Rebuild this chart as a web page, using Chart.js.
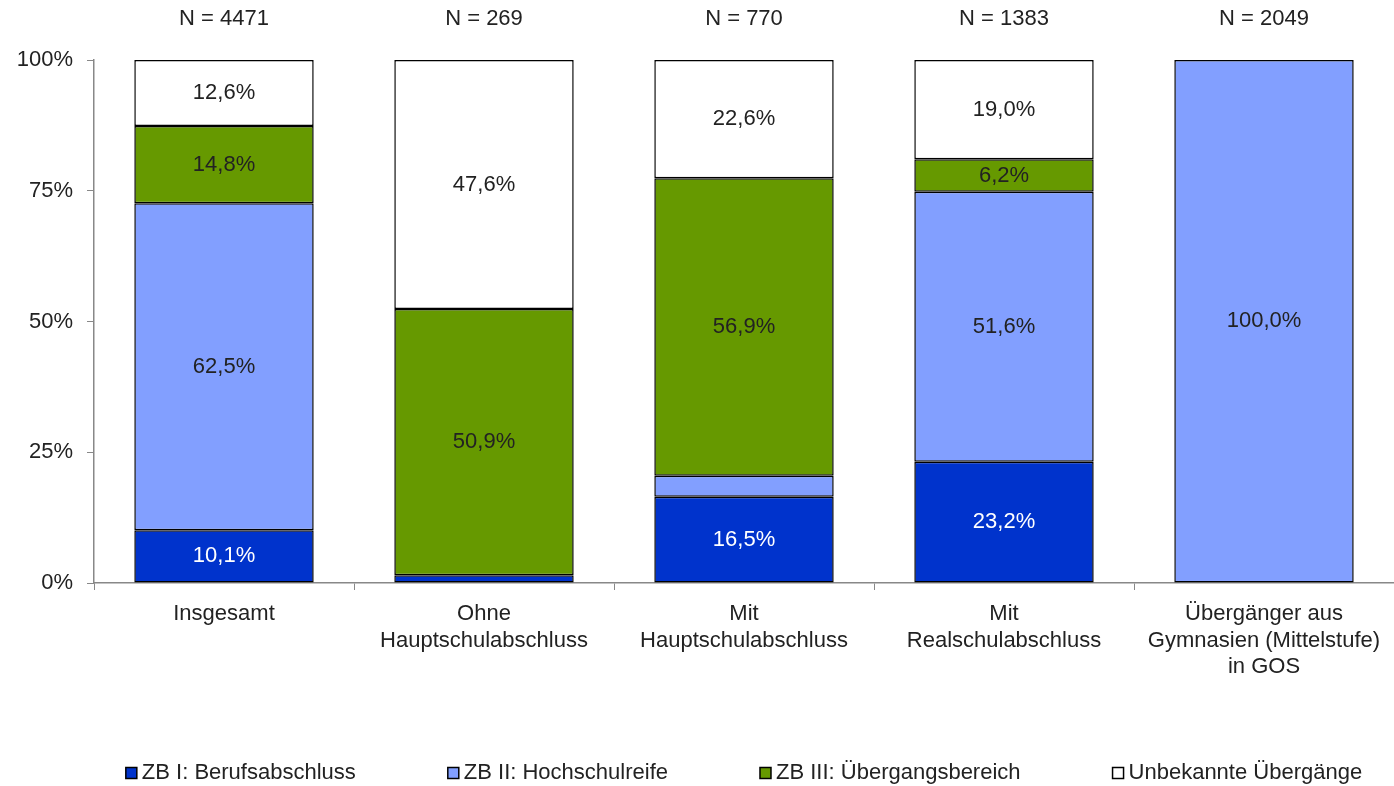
<!DOCTYPE html>
<html>
<head>
<meta charset="utf-8">
<script src="https://cdn.jsdelivr.net/npm/chart.js@4/dist/chart.umd.min.js"></script>
<style>
  html, body { margin: 0; padding: 0; background: #fff; }
  #wrap { width: 1394px; height: 786px; position: relative; }
</style>
</head>
<body>
<div id="wrap"><canvas id="c"></canvas></div>
<script>
// ═══ DATA ═══
const categories = [
  "Insgesamt",
  ["Ohne", "Hauptschulabschluss"],
  ["Mit", "Hauptschulabschluss"],
  ["Mit", "Realschulabschluss"],
  ["Übergänger aus", "Gymnasien (Mittelstufe)", "in GOS"]
];
const nCounts = [4471, 269, 770, 1383, 2049];

const zb1 = [10.1, 1.5, 16.5, 23.2, 0];
const zb2 = [62.5, 0, 4.0, 51.6, 100.0];
const zb3 = [14.8, 50.9, 56.9, 6.2, 0];
const unbekannt = [12.6, 47.6, 22.6, 19.0, 0];

const yTicks = [0, 25, 50, 75, 100];

const FONT = "'Liberation Sans', Arial, sans-serif";
const FS = 22;
const fmtPct = v => v.toFixed(1).replace(".", ",") + "%";

function ds(label, data, color, textColor) {
  return {
    label, data,
    backgroundColor: color,
    borderColor: "#000",
    borderWidth: 1.5,
    borderSkipped: false,
    barPercentage: 0.69,
    categoryPercentage: 1.0,
    textColor
  };
}

// segment labels, N headers and the legend row
const labelPlugin = {
  id: "segLabels",
  afterDatasetsDraw(chart) {
    const { ctx, chartArea } = chart;
    ctx.save();
    ctx.font = FS + "px " + FONT;
    ctx.textAlign = "center";
    ctx.textBaseline = "middle";
    chart.data.datasets.forEach((d, di) => {
      const meta = chart.getDatasetMeta(di);
      meta.data.forEach((bar, i) => {
        const v = d.data[i];
        if (v < 5) return;
        ctx.fillStyle = d.textColor;
        ctx.fillText(fmtPct(v), bar.x, (bar.y + bar.base) / 2);
      });
    });
    const meta0 = chart.getDatasetMeta(0);
    ctx.fillStyle = "#222";
    meta0.data.forEach((bar, i) => {
      ctx.fillText("N = " + nCounts[i], bar.x, 19);
    });

    // legend
    const box = 11, gapTxt = 5, gapItem = 92, ly = 773;
    ctx.textAlign = "left";
    const items = chart.data.datasets.map(d => ({ d, w: box + gapTxt + ctx.measureText(d.label).width }));
    const total = items.reduce((s, it) => s + it.w, 0) + gapItem * (items.length - 1);
    let x = (chartArea.left + chartArea.right) / 2 - total / 2;
    items.forEach(it => {
      ctx.fillStyle = it.d.backgroundColor;
      ctx.fillRect(x, ly - box / 2, box, box);
      ctx.strokeStyle = "#000";
      ctx.lineWidth = 1.5;
      ctx.strokeRect(x, ly - box / 2, box, box);
      ctx.fillStyle = "#222";
      ctx.fillText(it.d.label, x + box + gapTxt, ly);
      x += it.w + gapItem;
    });
    ctx.restore();
  }
};

new Chart(document.getElementById("c"), {
  type: "bar",
  data: {
    labels: categories,
    datasets: [
      ds("ZB I: Berufsabschluss", zb1, "#0033CC", "#FFFFFF"),
      ds("ZB II: Hochschulreife", zb2, "#829FFF", "#222222"),
      ds("ZB III: Übergangsbereich", zb3, "#669900", "#222222"),
      ds("Unbekannte Übergänge", unbekannt, "#FFFFFF", "#222222")
    ]
  },
  options: {
    responsive: true,
    maintainAspectRatio: false,
    animation: false,
    layout: { padding: { top: 60, right: 0, left: 0, bottom: 0 } },
    plugins: {
      tooltip: { enabled: false },
      legend: { display: false }
    },
    scales: {
      x: {
        stacked: true,
        grid: { display: true, drawOnChartArea: false, color: "#888", tickLength: 7, offset: true },
        border: { color: "#888", width: 1.5 },
        ticks: { font: { size: FS, family: FONT }, color: "#222", maxRotation: 0, autoSkip: false, padding: 11 },
        afterFit: s => { s.height = 203; }
      },
      y: {
        stacked: true,
        min: 0, max: 100,
        afterBuildTicks: s => { s.ticks = yTicks.map(v => ({ value: v })); },
        grid: { display: true, drawOnChartArea: false, color: "#888", tickLength: 7 },
        border: { color: "#888", width: 1.5 },
        ticks: { font: { size: FS, family: FONT }, color: "#222", padding: 14, callback: v => v + "%" },
        afterFit: s => { s.width = 94; }
      }
    }
  },
  plugins: [labelPlugin]
});
</script>
</body>
</html>
